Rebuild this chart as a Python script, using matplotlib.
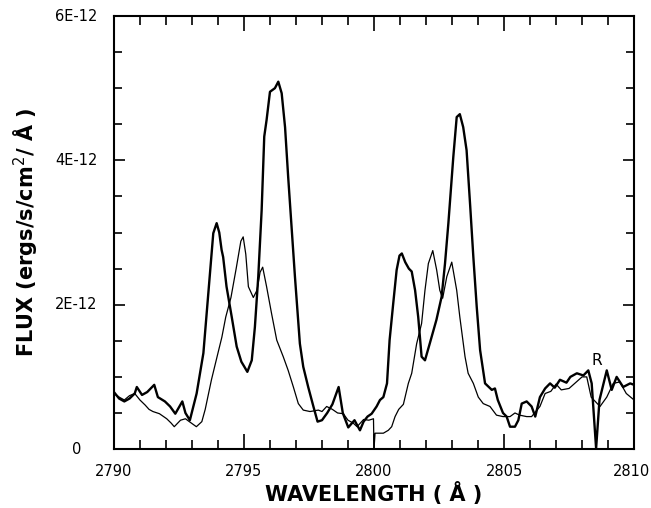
import numpy as np
from matplotlib import pyplot as plt
from matplotlib.ticker import MultipleLocator
from matplotlib.transforms import ScaledTranslation

# flux in units of 1E-12 ergs/s/cm2/A
wl_thick = [2790.00, 2790.20, 2790.40, 2790.60, 2790.80, 2790.88, 2791.08, 2791.28,
            2791.55, 2791.69, 2791.96, 2792.16, 2792.36, 2792.63, 2792.75, 2792.92,
            2793.18, 2793.44, 2793.63, 2793.82, 2793.95, 2794.05, 2794.14, 2794.20,
            2794.33, 2794.53, 2794.72, 2794.90, 2795.00, 2795.13, 2795.30, 2795.42,
            2795.55, 2795.68, 2795.78, 2795.87, 2796.00, 2796.19, 2796.32, 2796.45,
            2796.58, 2796.70, 2796.83, 2796.96, 2797.15, 2797.28, 2797.47, 2797.67,
            2797.83, 2798.00, 2798.20, 2798.40, 2798.64, 2798.80, 2799.01, 2799.25,
            2799.46, 2799.60, 2799.75, 2799.91, 2800.10, 2800.23, 2800.36, 2800.50,
            2800.60, 2800.74, 2800.87, 2800.98, 2801.07, 2801.20, 2801.34, 2801.45,
            2801.58, 2801.70, 2801.83, 2801.96, 2802.15, 2802.40, 2802.60, 2802.73,
            2802.86, 2803.05, 2803.18, 2803.30, 2803.43, 2803.56, 2803.70, 2803.82,
            2803.95, 2804.08, 2804.27, 2804.53, 2804.65, 2804.76, 2804.96, 2805.10,
            2805.23, 2805.42, 2805.55, 2805.68, 2805.87, 2806.06, 2806.20, 2806.38,
            2806.58, 2806.77, 2806.95, 2807.15, 2807.40, 2807.55, 2807.80, 2808.05,
            2808.24, 2808.37, 2808.54, 2808.67, 2808.95, 2809.14, 2809.33, 2809.58,
            2809.85, 2810.00]
flux_thick = [0.79, 0.70, 0.66, 0.70, 0.77, 0.86, 0.75, 0.79,
              0.89, 0.72, 0.66, 0.59, 0.49, 0.66, 0.50, 0.40,
              0.77, 1.33, 2.16, 2.99, 3.13, 3.00, 2.76, 2.66,
              2.25, 1.83, 1.42, 1.21, 1.15, 1.07, 1.23, 1.69,
              2.39, 3.31, 4.33, 4.56, 4.95, 5.00, 5.09, 4.93,
              4.46, 3.77, 3.08, 2.39, 1.46, 1.14, 0.86, 0.59,
              0.38, 0.40, 0.50, 0.62, 0.86, 0.50, 0.30, 0.40,
              0.26, 0.38, 0.45, 0.49, 0.59, 0.68, 0.72, 0.91,
              1.51, 2.02, 2.48, 2.68, 2.71, 2.59, 2.50, 2.46,
              2.20, 1.83, 1.28, 1.23, 1.47, 1.79, 2.11, 2.57,
              3.13, 4.05, 4.60, 4.64, 4.46, 4.14, 3.36, 2.66,
              1.97, 1.37, 0.91, 0.82, 0.84, 0.68, 0.50, 0.45,
              0.31, 0.31, 0.40, 0.63, 0.66, 0.59, 0.45, 0.72,
              0.84, 0.91, 0.85, 0.96, 0.92, 1.00, 1.05, 1.02,
              1.09, 0.91, 0.01, 0.68, 1.09, 0.82, 1.00, 0.86,
              0.91, 0.89]

wl_thin = [2790.00, 2790.20, 2790.40, 2790.60, 2790.80, 2791.00, 2791.20, 2791.35,
           2791.50, 2791.75, 2792.03, 2792.20, 2792.32, 2792.56, 2792.75, 2792.90,
           2793.17, 2793.38, 2793.51, 2793.75, 2794.00, 2794.15, 2794.30, 2794.50,
           2794.70, 2794.88, 2794.97, 2795.07, 2795.17, 2795.36, 2795.50, 2795.62,
           2795.72, 2795.87, 2796.06, 2796.26, 2796.51, 2796.70, 2796.90, 2797.09,
           2797.28, 2797.54, 2797.86, 2798.00, 2798.18, 2798.40, 2798.60, 2798.82,
           2799.00, 2799.20, 2799.35, 2799.60, 2799.80, 2799.98, 2800.00, 2800.04,
           2800.36, 2800.55, 2800.68, 2800.81, 2800.95, 2801.13, 2801.32, 2801.45,
           2801.64, 2801.83, 2801.96, 2802.09, 2802.26, 2802.41, 2802.53, 2802.64,
           2802.80, 2802.99, 2803.18, 2803.30, 2803.50, 2803.62, 2803.82, 2804.01,
           2804.20, 2804.46, 2804.71, 2804.96, 2805.23, 2805.42, 2805.60, 2805.87,
           2806.06, 2806.38, 2806.58, 2806.80, 2807.00, 2807.20, 2807.50, 2807.75,
           2808.00, 2808.18, 2808.35, 2808.69, 2808.95, 2809.20, 2809.45, 2809.70,
           2810.00]
flux_thin = [0.77, 0.72, 0.68, 0.74, 0.77, 0.68, 0.61, 0.55,
             0.52, 0.49, 0.42, 0.36, 0.31, 0.40, 0.42, 0.38,
             0.31, 0.38, 0.55, 0.96, 1.33, 1.55, 1.83, 2.10,
             2.50, 2.88, 2.94, 2.70, 2.25, 2.10, 2.20, 2.45,
             2.52, 2.25, 1.88, 1.51, 1.28, 1.09, 0.86, 0.63,
             0.54, 0.52, 0.54, 0.52, 0.59, 0.55, 0.50, 0.49,
             0.40, 0.36, 0.31, 0.41, 0.40, 0.42, 0.00, 0.22,
             0.22, 0.26, 0.31, 0.45, 0.55, 0.62, 0.91, 1.05,
             1.46, 1.74, 2.20, 2.57, 2.75, 2.48, 2.20, 2.09,
             2.39, 2.59, 2.20, 1.83, 1.28, 1.05, 0.91, 0.72,
             0.63, 0.59, 0.47, 0.45, 0.45, 0.50, 0.47, 0.45,
             0.45, 0.59, 0.77, 0.80, 0.90, 0.82, 0.84, 0.92,
             1.00, 1.00, 0.72, 0.59, 0.72, 0.91, 0.93, 0.77,
             0.68]

y_ticks = [0, 2, 4, 6]
y_labels = ['0', '2E-12', '4E-12', '6E-12']
x_ticks = [2790, 2795, 2800, 2805, 2810]

fig = plt.figure(figsize=(6.51, 5.08), dpi=100)
ax = fig.add_axes([0.175, 0.116, 0.799, 0.8525])

ax.plot(wl_thin, flux_thin, color='black', lw=0.9)
ax.plot(wl_thick, flux_thick, color='black', lw=1.7)

ax.set_xlim(2790, 2810)
ax.set_ylim(0, 6)
ax.set_xticks(x_ticks)
ax.set_xticklabels([str(t) for t in x_ticks])
ax.set_yticks(y_ticks)
ax.set_yticklabels(y_labels)
ax.xaxis.set_minor_locator(MultipleLocator(1))
ax.yaxis.set_minor_locator(MultipleLocator(0.5))

ax.tick_params(which='both', direction='in', top=True, right=True, width=1.2,
               labelsize=10.5)
ax.tick_params(axis='x', which='major', length=11, pad=11)
ax.tick_params(axis='x', which='minor', length=6.5)
ax.tick_params(axis='y', which='major', length=8, pad=27)
ax.tick_params(axis='y', which='minor', length=6)
for lbl in ax.get_yticklabels():
    lbl.set_ha('center')
    lbl.set_va('center')

# keep the last wavelength label inside the image edge
last = ax.get_xticklabels()[-1]
last.set_transform(last.get_transform() + ScaledTranslation(-0.03, 0, fig.dpi_scale_trans))

for sp in ax.spines.values():
    sp.set_linewidth(1.5)

ax.set_xlabel('WAVELENGTH ( Å )', fontsize=15, fontweight='bold', labelpad=2)
ax.set_ylabel('FLUX (ergs/s/cm$^2$/ Å )', fontsize=15, fontweight='bold',
              labelpad=11)

ax.text(2808.56, 1.23, 'R', fontsize=11, ha='center', va='center')

fig.savefig('out.png', dpi=100)
